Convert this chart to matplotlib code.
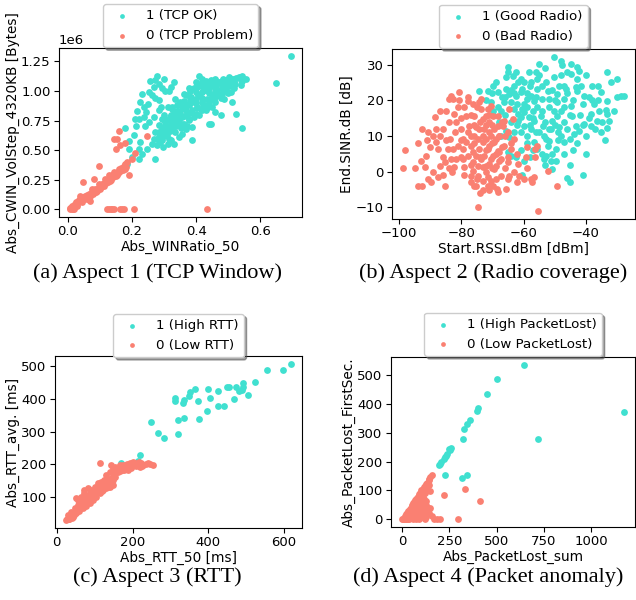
import matplotlib
matplotlib.use("Agg")
import matplotlib.pyplot as plt

CYAN = "#40E0D0"
SALMON = "#FA8072"

# ---------------- (a) TCP window ----------------
a_ok = [
    (0.278,1.128),(0.273,1.091),(0.257,1.083),(0.283,1.055),(0.299,1.100),(0.268,1.035),
    (0.294,1.021),(0.304,0.998),(0.330,1.072),(0.320,1.035),(0.315,0.998),(0.252,0.992),
    (0.2625,0.964),(0.273,0.941),(0.283,0.922),(0.231,0.978),(0.226,0.908),(0.250,0.893),
    (0.236,0.865),(0.216,0.828),(0.244,0.823),(0.283,0.837),(0.3125,0.865),(0.221,0.766),
    (0.208,0.766),(0.236,0.780),(0.252,0.738),(0.268,0.780),(0.2125,0.704),(0.240,0.701),
    (0.205,0.630),(0.226,0.568),(0.179,0.690),(0.192,0.577),(0.221,0.512),(0.231,0.469),
    (0.247,0.512),(0.221,0.427),(0.200,0.441),(0.273,0.427),(0.190,0.512),(0.184,0.385),
    (0.289,0.865),(0.294,0.766),
    (0.2625,0.554),(0.278,0.597),(0.283,0.653),(0.294,0.681),(0.304,0.639),(0.315,0.696),
    (0.325,0.738),(0.320,0.794),(0.335,0.766),(0.346,0.823),(0.356,0.851),(0.367,0.879),
    (0.377,0.893),(0.3875,0.908),(0.398,0.936),(0.408,0.964),(0.419,0.992),(0.429,1.006),
    (0.440,1.026),(0.450,1.049),(0.460,1.063),(0.471,1.077),(0.481,1.083),(0.492,1.091),
    (0.502,1.100),(0.5125,1.105),(0.523,1.111),(0.533,1.117),(0.544,1.125),(0.554,1.100),
    (0.539,1.091),(0.518,1.077),(0.497,1.049),(0.481,1.021),(0.466,1.006),(0.450,0.964),
    (0.434,0.936),(0.419,0.908),(0.403,0.865),(0.3875,0.837),(0.372,0.809),(0.356,0.780),
    (0.341,0.724),(0.325,0.681),(0.309,0.625),(0.294,0.582),(0.278,0.540),(0.330,0.554),
    (0.367,0.681),(0.356,0.639),(0.3875,0.582),(0.3875,0.696),(0.408,0.794),(0.429,0.837),
    (0.450,0.865),(0.460,0.823),(0.476,0.794),(0.440,0.724),(0.445,0.724),(0.403,1.063),
    (0.408,1.128),(0.400,1.077),(0.377,1.021),(0.367,0.964),(0.351,0.908),(0.341,0.879),
    (0.325,0.865),(0.335,0.936),(0.361,0.978),(0.382,0.950),(0.393,1.021),(0.419,1.077),
    (0.434,1.063),(0.460,1.021),(0.492,1.021),(0.507,0.992),(0.5125,0.908),(0.523,0.809),
    (0.544,0.690),(0.648,1.069),(0.695,1.298),(0.335,0.653),(0.346,0.611),(0.315,0.597),
    (0.304,0.710),(0.283,0.710),(0.289,0.625),(0.268,0.597),(0.273,0.653),(0.299,0.794),
    (0.309,0.752),(0.330,0.809),(0.346,0.766),(0.361,0.724),(0.377,0.752),(0.393,0.780),
    (0.414,0.851),(0.424,0.879),(0.440,0.908),(0.455,0.936),(0.471,0.964),(0.481,0.978),
    (0.486,0.936),(0.502,1.063),(0.460,1.105),(0.445,1.091),(0.429,1.083),(0.414,1.043),
    (0.398,0.992),(0.382,0.922),(0.367,0.837),(0.351,0.809),(0.335,0.809),(0.320,0.710),
    (0.304,0.667),(0.283,0.611),
    (0.301,0.622),(0.298,0.684),(0.303,0.741),(0.318,0.664),(0.322,0.722),(0.319,0.781),
    (0.323,0.847),(0.338,0.703),(0.343,0.758),(0.339,0.832),(0.344,0.884),(0.357,0.721),
    (0.362,0.792),(0.358,0.862),(0.363,0.918),(0.378,0.763),(0.382,0.818),(0.379,0.884),
    (0.384,0.948),(0.381,0.998),(0.398,0.802),(0.402,0.858),(0.399,0.902),(0.404,0.968),
    (0.401,1.031),(0.418,0.842),(0.422,0.883),(0.419,0.942),(0.423,1.004),(0.421,1.052),
    (0.418,1.098),(0.438,0.862),(0.442,0.921),(0.439,0.983),(0.443,1.041),(0.441,1.079),
    (0.458,0.903),(0.462,0.958),(0.459,1.002),(0.463,1.038),(0.461,1.088),(0.478,0.942),
    (0.482,1.003),(0.479,1.048),(0.483,1.101),(0.498,0.981),(0.502,1.038),(0.499,1.081),
    (0.503,1.118),(0.518,1.022),(0.522,1.058),(0.519,1.099),(0.538,1.052),(0.542,1.082),
    (0.539,1.118),(0.288,0.565),(0.297,0.528),(0.312,0.556),(0.322,0.588),(0.352,0.687),
    (0.372,0.708),
]
a_bad = [
    (0.008,0.0),(0.012,0.0),(0.015,0.0),(0.018,0.0),(0.122,0.0),(0.128,0.0),(0.133,0.0),
    (0.138,0.0),(0.143,0.0),(0.163,0.0),(0.168,0.0),(0.174,0.0),(0.205,0.0),(0.434,0.0),
    (0.007,0.008),(0.0125,0.031),(0.018,0.017),(0.023,0.045),(0.028,0.031),(0.033,0.074),
    (0.039,0.088),(0.039,0.116),(0.044,0.059),(0.049,0.102),(0.054,0.116),(0.059,0.102),
    (0.059,0.088),(0.065,0.130),(0.070,0.116),(0.070,0.074),(0.075,0.144),(0.075,0.172),
    (0.080,0.158),(0.085,0.172),(0.085,0.144),(0.091,0.158),(0.096,0.187),(0.096,0.215),
    (0.101,0.201),(0.106,0.201),(0.111,0.215),(0.117,0.229),(0.117,0.257),(0.122,0.243),
    (0.127,0.257),(0.127,0.286),(0.132,0.243),(0.137,0.271),(0.137,0.291),(0.143,0.286),
    (0.143,0.314),(0.148,0.300),(0.153,0.286),(0.158,0.314),(0.158,0.342),(0.164,0.328),
    (0.169,0.342),(0.174,0.356),(0.179,0.370),(0.179,0.342),(0.184,0.399),(0.190,0.286),
    (0.046,0.229),(0.098,0.370),(0.083,0.257),(0.158,0.659),(0.143,0.591),(0.153,0.591),
    (0.164,0.540),(0.177,0.563),(0.150,0.506),(0.247,0.619),(0.210,0.478),(0.200,0.427),
    (0.179,0.384),
    (0.010,0.015),(0.020,0.035),(0.025,0.060),(0.030,0.045),(0.035,0.080),(0.040,0.070),
    (0.045,0.095),(0.050,0.085),(0.055,0.105),(0.060,0.120),(0.062,0.095),(0.067,0.125),
    (0.072,0.135),(0.078,0.130),(0.082,0.150),(0.088,0.165),(0.093,0.175),(0.098,0.180),
    (0.103,0.190),(0.108,0.210),(0.113,0.200),(0.120,0.220),(0.125,0.235),(0.130,0.260),
    (0.135,0.250),(0.140,0.270),(0.145,0.300),(0.150,0.280),(0.155,0.305),(0.160,0.320),
    (0.166,0.345),(0.172,0.330),(0.176,0.365),(0.182,0.355),(0.120,0.242),(0.100,0.175),
    (0.078,0.145),(0.056,0.095),(0.068,0.110),(0.087,0.150),
]

# ---------------- (b) Radio coverage ----------------
b_good = [
    (-50.2,32.2),(-48.1,31.0),(-47.6,29.8),(-44.9,30.1),(-42.8,29.2),(-42.2,28.2),(-44.9,27.3),
    (-55.0,30.1),(-58.2,27.9),(-56.0,27.9),(-65.1,29.2),(-65.1,27.9),(-62.5,27.9),(-63.5,26.8),
    (-61.9,25.2),(-59.8,25.2),(-57.7,25.2),(-65.7,26.4),(-68.9,25.2),(-69.9,24.0),(-74.2,22.6),
    (-71.5,22.6),(-68.3,22.2),(-65.7,23.1),(-63.0,24.0),(-60.4,23.1),(-55.6,25.9),(-52.9,25.2),
    (-50.2,26.4),(-48.6,24.0),(-46.5,23.1),(-43.3,23.6),(-41.7,24.0),(-38.0,24.0),(-40.6,21.2),
    (-42.8,22.6),(-35.2,22.2),(-33.1,27.9),(-32.0,25.0),(-29.9,26.1),(-28.8,21.1),(-27.8,21.1),
    (-33.1,19.8),(-37.4,18.9),(-35.8,17.0),(-33.1,16.1),(-38.5,16.1),(-36.4,14.2),(-32.6,14.2),
    (-33.1,12.1),(-35.2,11.2),(-40.6,13.3),(-40.1,4.9),(-41.1,-0.9),(-43.3,12.9),(-44.4,15.6),
    (-46.1,11.9),(-45.0,9.1),(-47.0,8.2),(-48.1,10.1),(-49.2,15.6),(-50.2,17.0),(-50.8,14.2),
    (-51.3,11.9),(-51.8,8.7),(-49.7,6.3),(-49.7,3.1),(-52.9,4.5),(-52.3,7.3),(-53.4,10.1),
    (-53.9,12.9),(-54.5,15.6),(-55.6,18.0),(-56.7,19.8),(-57.7,21.2),(-54.0,20.3),(-51.8,20.3),
    (-49.2,19.4),(-47.0,18.0),(-44.9,18.4),(-58.8,18.0),(-59.8,16.6),(-60.9,15.2),(-61.9,14.2),
    (-63.0,17.5),(-64.1,19.4),(-66.2,19.4),(-67.3,17.0),(-68.3,18.0),(-70.5,19.4),(-69.9,17.0),
    (-67.3,13.3),(-65.7,11.5),(-64.6,9.6),(-67.3,10.1),(-65.1,5.4),(-64.1,4.5),(-62.5,4.0),
    (-60.4,-0.9),(-58.8,10.1),(-57.7,11.9),(-56.7,8.2),(-55.6,6.3),(-53.4,3.6),(-51.3,3.1),
    (-56.7,14.2),(-59.8,12.9),(-60.9,11.0),(-58.2,15.2),(-61.9,16.1),(-60.4,17.5),(-58.8,20.3),
    (-62.5,21.2),(-64.6,21.7),(-60.9,22.2),(-55.6,23.1),(-52.3,22.6),(-49.2,21.7),(-47.0,20.3),
    (-46.2,-1.9),(-45.1,-3.0),(-50.8,0.7),(-52.9,9.1),(-48.6,12.4),(-43.9,10.5),(-42.3,11.5),
    (-38.5,12.9),(-33.7,17.2),
    (-66.0,21.0),(-64.0,23.0),(-62.0,19.0),(-61.0,26.0),(-59.0,22.0),(-58.0,24.0),(-57.0,17.0),
    (-56.0,21.0),(-55.0,11.0),(-54.0,17.0),(-53.0,14.0),(-52.0,18.0),(-51.0,23.0),(-50.0,13.0),
    (-49.0,9.0),(-48.0,17.0),(-47.0,14.0),(-46.0,22.0),(-45.0,16.0),(-44.0,20.0),(-43.0,8.0),
    (-42.0,16.0),(-41.0,19.0),(-40.0,10.0),(-39.0,21.0),(-37.0,12.0),(-36.0,20.0),(-35.0,14.0),
    (-34.0,9.0),(-31.0,17.0),(-30.0,21.0),(-60.0,19.0),(-62.0,13.0),(-63.0,11.0),(-59.0,8.0),
    (-57.0,6.0),(-54.0,5.0),(-53.0,2.0),(-47.0,5.0),(-45.0,2.0),(-61.0,6.0),(-60.0,3.0),
    (-66.0,16.0),(-67.0,21.0),(-68.0,14.0),(-70.0,22.0),(-72.0,20.0),(-64.0,14.0),(-58.0,13.0),
    (-56.0,11.0),(-52.0,12.0),(-49.0,11.0),(-47.0,24.0),(-43.0,26.0),(-40.0,27.0),(-38.0,20.0),
    (-55.0,27.0),(-53.0,29.0),(-46.0,28.0),(-44.0,6.0),(-36.0,24.0),(-57.0,15.0),(-63.0,22.0),
    (-50.0,20.0),(-48.0,27.0),(-39.0,15.0),(-41.0,13.0),(-54.0,24.0),(-51.0,5.0),(-58.0,4.0),
]
b_bad = [
    (-98.0,6.0),(-98.7,1.0),(-92.6,-3.9),(-93.9,8.0),(-92.6,11.9),(-91.8,1.2),(-90.7,11.0),
    (-90.7,-2.1),(-89.7,-3.0),(-91.3,4.5),(-89.1,10.1),(-88.6,15.2),(-88.1,8.2),(-87.5,6.3),
    (-87.0,1.7),(-87.5,-1.6),(-86.7,17.0),(-85.9,11.9),(-85.4,-3.9),(-84.9,17.0),(-83.8,20.3),
    (-83.3,21.2),(-82.7,20.3),(-82.2,16.1),(-83.5,9.1),(-82.7,6.3),(-83.3,3.5),(-82.2,1.2),
    (-81.7,13.8),(-80.6,22.2),(-80.6,20.1),(-80.1,11.9),(-79.5,9.1),(-79.5,6.3),(-79.5,3.5),
    (-79.0,1.2),(-79.0,18.0),(-78.5,15.6),(-77.9,19.8),(-77.4,12.9),(-76.9,10.1),(-76.9,7.3),
    (-76.3,5.4),(-76.3,2.6),(-76.3,0.3),(-76.9,-1.1),(-75.3,-3.9),(-74.5,-10.0),(-75.8,15.6),
    (-75.3,12.4),(-74.7,9.1),(-74.2,6.3),(-73.7,20.3),(-73.7,3.5),(-73.1,1.2),(-72.6,11.9),
    (-72.1,15.6),(-72.1,9.1),(-71.5,6.3),(-71.5,-1.6),(-71.0,13.8),(-71.0,2.1),(-70.5,10.1),
    (-70.5,18.4),(-69.9,4.5),(-69.9,-3.9),(-69.4,11.9),(-69.4,8.2),(-68.9,1.7),(-68.6,-4.9),
    (-68.3,15.6),(-68.3,5.9),(-67.8,10.1),(-67.3,3.5),(-67.3,-1.1),(-66.7,12.9),(-66.2,7.3),
    (-65.7,-4.9),(-65.1,11.0),(-65.1,2.6),(-64.6,17.5),(-64.6,-1.1),(-64.1,6.3),(-63.5,14.7),
    (-63.0,9.1),(-61.9,2.1),(-61.4,-1.1),(-59.3,4.0),(-58.8,6.8),(-57.7,-2.1),(-57.2,-3.0),
    (-56.7,-1.6),(-56.2,6.3),(-56.2,4.0),(-55.3,-11.1),(-52.3,0.3),(-49.4,-3.9),(-55.6,7.3),
    (-78.5,8.2),(-77.9,4.5),(-75.8,10.1),(-75.3,4.5),(-74.7,1.7),(-74.2,11.9),(-73.1,8.2),
    (-73.1,14.7),(-72.6,4.5),(-72.1,1.7),(-71.5,17.5),(-71.0,7.3),(-70.5,3.5),(-69.9,15.6),
    (-69.4,0.7),(-68.9,9.1),(-68.3,12.9),(-67.8,5.4),(-74.7,-1.1),(-73.1,-2.5),(-71.5,-3.9),
    (-70.5,-2.5),(-68.3,-5.8),(-81.1,7.3),(-81.7,3.5),(-84.3,6.3),(-85.4,2.6),(-73.7,17.5),
    (-76.3,18.9),(-74.2,19.4),(-66.2,14.3),
    (-95.0,1.0),(-94.0,-4.0),(-93.0,3.0),(-90.0,7.0),(-89.0,0.0),(-88.0,12.0),(-86.0,4.0),
    (-85.0,9.0),(-84.0,14.0),(-83.0,0.0),(-82.0,11.0),(-81.0,18.0),(-80.0,4.0),(-80.0,15.0),
    (-79.0,-1.0),(-78.0,11.0),(-78.0,21.0),(-77.0,2.0),(-77.0,16.0),(-76.0,8.0),(-76.0,13.0),
    (-75.0,-2.0),(-75.0,18.0),(-74.0,4.0),(-74.0,14.0),(-73.0,10.0),(-73.0,-5.0),(-72.0,6.0),
    (-72.0,13.0),(-72.0,0.0),(-71.0,11.0),(-71.0,16.0),(-70.0,1.0),(-70.0,8.0),(-70.0,13.0),
    (-69.0,5.0),(-69.0,-2.0),(-68.0,10.0),(-68.0,3.0),(-67.0,7.0),(-67.0,14.0),(-66.0,1.0),
    (-66.0,10.0),(-65.0,4.0),(-65.0,-2.0),(-64.0,8.0),(-63.0,0.0),(-62.0,5.0),(-62.0,-3.0),
    (-60.0,-2.0),(-59.0,1.0),(-77.0,-3.0),(-80.0,9.0),(-86.0,-1.0),(-91.0,9.0),(-74.0,-6.0),
    (-71.0,-5.0),(-76.0,-4.0),(-87.0,10.0),(-84.0,1.0),
]

# ---------------- (c) RTT ----------------
c_high = [
    (618,508),(598,488),(556,488),(523,451),(505,413),(492,449),(492,436),(489,429),(482,423),
    (474,436),(468,400),(454,436),(449,436),(442,380),(426,377),(426,425),(404,403),(399,432),
    (396,364),(376,338),(373,394),(366,432),(352,421),(349,408),(337,397),(333,389),(335,342),
    (321,337),(313,403),(311,393),(319,293),(284,279),(268,296),(250,329),(220,228),(215,210),
    (170,205),
]
c_low = [
    (25,28),(34,38),(42,49),(51,59),(60,69),(69,80),(78,90),(87,100),(96,110),(104,121),
    (113,131),(122,136),(131,143),(140,151),(149,136),(153,162),(149,172),(158,182),(166,187),
    (175,192),(184,197),(193,203),(202,208),(211,205),(229,197),(246,200),(131,167),(140,177),
    (149,187),(162,177),(171,182),(180,187),(144,197),(166,197),(197,192),(115,205),(153,192),
    (189,182),(206,197),(219,192),(50,97),(73,121),(82,126),(56,90),(65,100),(73,110),(91,121),
    (100,131),(109,141),(118,146),(126,151),(135,131),(47,64),(56,74),(65,85),(73,95),(82,105),
    (91,115),(100,123),(38,54),(29,44),(31,33),(42,38),(51,49),(60,57),(69,64),(78,71),(87,80),
    (96,90),(104,100),(113,110),(122,121),(131,126),(140,131),
    (28,31),(33,33),(37,42),(40,36),(45,45),(48,52),(53,55),(55,62),(58,63),(62,66),(64,72),
    (67,75),(71,77),(72,84),(75,86),(79,83),(80,93),(84,92),(86,97),(88,106),(92,102),(94,108),
    (98,112),(100,116),(102,108),(106,118),(108,124),(110,128),(112,120),(116,126),(118,134),
    (120,118),(124,130),(128,138),(132,140),(136,146),(138,154),(142,140),(145,158),(148,150),
    (152,168),(156,175),(160,186),(164,192),(168,178),(172,194),(176,198),(178,183),(182,192),
    (186,200),(190,194),(195,188),(198,200),(204,203),(208,195),(212,200),(216,206),(222,202),
    (226,194),(235,200),(240,205),(255,198),
]

# ---------------- (d) Packet anomaly ----------------
d_high = [
    (646,536),(502,487),(449,434),(403,386),(396,377),(357,345),(343,329),(326,314),(320,279),
    (259,248),(255,239),(238,225),(229,216),(220,208),(202,193),(197,189),(227,154),(315,143),
    (343,153),(720,278),(1174,372),(250,243),(233,220),(206,197),
]
d_low = [
    (157,153),(150,147),(127,122),(118,113),(100,101),(92,87),(150,99),(220,83),(333,105),
    (414,62),(294,0),(171,0),(185,0),(199,0),(121,1),(130,22),(150,38),(118,53),(100,64),
    (83,76),(74,64),(65,53),(56,41),(48,30),(39,18),(30,9),(12,1),(21,1),(39,1),(56,1),(74,1),
    (92,1),(100,18),(109,36),(92,30),(74,18),(56,13),(83,41),(65,30),(48,18),(74,30),(92,47),
    (83,59),(100,47),(118,30),(109,9),(127,9),(5,0),(0,0),(118,70),(127,64),
    (20,18),(30,28),(40,36),(50,46),(60,56),(70,66),(80,74),
    (10,5),(15,10),(25,20),(35,30),(45,40),(55,50),(65,60),(75,70),(85,78),(90,82),(95,90),
    (105,95),(110,106),(120,115),(130,125),(140,135),(145,140),(25,5),(35,12),(45,22),(55,28),
    (62,40),(70,45),(78,52),(88,60),(95,70),(105,75),(112,85),(120,90),(130,100),(140,120),
    (20,0),(30,2),(45,5),(60,8),(70,10),(80,12),(90,14),(105,20),(115,25),(125,30),(135,40),
    (145,20),(160,10),(15,3),(50,35),(60,20),(85,35),(95,55),(110,45),(125,50),
]

panels = [
    dict(rect=[0.0928, 0.6383, 0.382, 0.2817], ok=a_ok, bad=a_bad,
         labels=("1 (TCP OK)", "0 (TCP Problem)"),
         xlabel="Abs_WINRatio_50", ylabel="Abs_CWIN_VolStep_4320KB [Bytes]",
         yscale=1e6, xticks=[0.0, 0.2, 0.4, 0.6], yticks=[0, 0.25e6, 0.5e6, 0.75e6, 1.0e6, 1.25e6],
         leg_y=1.26, caption="(a) Aspect 1 (TCP Window)", cap_xy=(0.248, 0.545)),
    dict(rect=[0.6164, 0.635, 0.382, 0.2833], ok=b_good, bad=b_bad,
         labels=("1 (Good Radio)", "0 (Bad Radio)"),
         xlabel="Start.RSSI.dBm [dBm]", ylabel="End.SINR.dB [dB]",
         yscale=1, xticks=[-100, -80, -60, -40], yticks=[-10, 0, 10, 20, 30],
         leg_y=1.26, caption="(b) Aspect 2 (Radio coverage)", cap_xy=(0.775, 0.545)),
    dict(rect=[0.0865, 0.12, 0.3884, 0.2867], ok=c_high, bad=c_low,
         labels=("1 (High RTT)", "0 (Low RTT)"),
         xlabel="Abs_RTT_50 [ms]", ylabel="Abs_RTT_avg. [ms]",
         yscale=1, xticks=[0, 200, 400, 600], yticks=[100, 200, 300, 400, 500],
         leg_y=1.245, caption="(c) Aspect 3 (RTT)", cap_xy=(0.247, 0.038)),
    dict(rect=[0.6148, 0.1217, 0.3836, 0.2833], ok=d_high, bad=d_low,
         labels=("1 (High PacketLost)", "0 (Low PacketLost)"),
         xlabel="Abs_PacketLost_sum", ylabel="Abs_PacketLost_FirstSec.",
         yscale=1, xticks=[0, 250, 500, 750, 1000], yticks=[0, 100, 200, 300, 400, 500],
         leg_y=1.26, caption="(d) Aspect 4 (Packet anomaly)", cap_xy=(0.767, 0.038)),
]

fig = plt.figure(figsize=(6.36, 6.0), dpi=100)
TICK_FS = 9.5
LABEL_FS = 9.8
for p in panels:
    ax = fig.add_axes(p["rect"])
    okx = [v[0] for v in p["ok"]]
    oky = [v[1] * p["yscale"] for v in p["ok"]]
    badx = [v[0] for v in p["bad"]]
    bady = [v[1] * p["yscale"] for v in p["bad"]]
    ax.scatter(okx, oky, s=24, c=CYAN, linewidths=0, label=p["labels"][0])
    ax.scatter(badx, bady, s=24, c=SALMON, linewidths=0, label=p["labels"][1])
    ax.set_xticks(p["xticks"])
    ax.set_yticks(p["yticks"])
    ax.tick_params(labelsize=TICK_FS, length=3.5, pad=2.5)
    ax.yaxis.get_offset_text().set_fontsize(TICK_FS)
    ax.set_xlabel(p["xlabel"], fontsize=LABEL_FS, labelpad=1)
    ax.set_ylabel(p["ylabel"], fontsize=LABEL_FS, labelpad=1)
    ax.legend(loc="upper center", bbox_to_anchor=(0.5, p["leg_y"]), fontsize=9.6,
              shadow=True, fancybox=True, markerscale=0.7, borderaxespad=0)
    fig.text(p["cap_xy"][0], p["cap_xy"][1], p["caption"], ha="center", va="center",
             fontsize=16, family="Liberation Serif")

fig.savefig("out.png", dpi=100)
